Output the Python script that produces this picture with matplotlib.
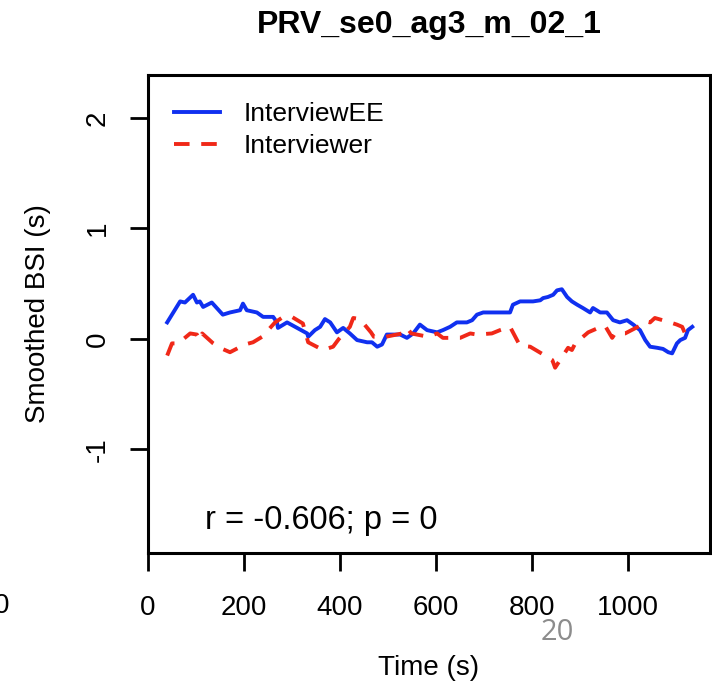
import numpy as np
import matplotlib
matplotlib.use('Agg')
import matplotlib.pyplot as plt

plt.rcParams['font.family'] = ['Liberation Sans', 'DejaVu Sans']

# InterviewEE (blue, solid)
ee_t = [40, 67, 77, 94, 102, 108, 115, 133, 156, 171, 192, 198, 206, 227, 240, 261, 269, 271,
        290, 311, 332, 334, 348, 359, 369, 380, 394, 407, 421, 436, 457, 467, 478, 488, 498,
        511, 526, 540, 553, 567, 582, 603, 615, 630, 644, 665, 676, 686, 699, 720, 734, 755,
        761, 776, 790, 803, 818, 824, 834, 845, 853, 863, 874, 884, 895, 907, 922, 928, 943,
        957, 970, 984, 999, 1012, 1026, 1037, 1047, 1062, 1074, 1085, 1093, 1103, 1110, 1120,
        1126, 1135]
ee_bsi = [0.15, 0.34, 0.33, 0.40, 0.33, 0.34, 0.29, 0.33, 0.22, 0.24, 0.26, 0.32, 0.26, 0.24,
          0.20, 0.20, 0.15, 0.10, 0.15, 0.10, 0.05, 0.02, 0.08, 0.11, 0.18, 0.15, 0.06, 0.10,
          0.05, -0.01, -0.03, -0.03, -0.07, -0.05, 0.04, 0.04, 0.04, 0.01, 0.05, 0.13, 0.08,
          0.06, 0.08, 0.11, 0.15, 0.15, 0.17, 0.22, 0.24, 0.24, 0.24, 0.24, 0.31, 0.34, 0.34,
          0.34, 0.35, 0.37, 0.38, 0.40, 0.44, 0.45, 0.38, 0.34, 0.31, 0.28, 0.24, 0.28, 0.24,
          0.24, 0.17, 0.15, 0.17, 0.13, 0.08, -0.01, -0.07, -0.08, -0.09, -0.12, -0.13, -0.04,
          -0.01, 0.01, 0.08, 0.11]

# Interviewer (red, dashed)
er_t = [40, 50, 63, 88, 102, 108, 113, 136, 150, 171, 202, 219, 238, 265, 282, 300, 323, 334,
        365, 386, 398, 421, 428, 442, 465, 471, 496, 530, 540, 549, 584, 603, 615, 651, 672,
        686, 717, 734, 755, 772, 776, 797, 828, 843, 849, 870, 876, 884, 891, 918, 939, 953,
        968, 974, 995, 1026, 1037, 1047, 1057, 1089, 1103, 1114, 1120]
er_bsi = [-0.15, -0.04, -0.04, 0.05, 0.04, -0.01, 0.05, -0.04, -0.08, -0.12, -0.05, -0.03,
          0.02, 0.15, 0.20, 0.20, 0.14, -0.03, -0.10, -0.07, 0.00, 0.11, 0.19, 0.18, 0.06,
          0.02, 0.02, 0.05, 0.10, 0.05, 0.02, 0.05, 0.01, 0.01, 0.05, 0.04, 0.05, 0.08, 0.11,
          -0.03, -0.06, -0.07, -0.15, -0.19, -0.26, -0.12, -0.08, -0.10, -0.04, 0.06, 0.10,
          0.12, 0.01, 0.05, 0.05, 0.12, 0.16, 0.15, 0.19, 0.15, 0.13, 0.11, 0.05]

title = 'PRV_se0_ag3_m_02_1'
stat_text = 'r = -0.606; p = 0'

fig = plt.figure(figsize=(7.12, 6.84), dpi=100)
ax = fig.add_axes([148 / 712, 1 - 553 / 684, 562 / 712, 478 / 684])

ax.plot(ee_t, ee_bsi, color='#1030f0', lw=2.8, label='InterviewEE')
ax.plot(er_t, er_bsi, color='#f02818', lw=2.8, linestyle=(0, (4, 3)), label='Interviewer')

ax.set_xlim(0, 1172)
ax.set_ylim(-1.937, 2.389)
ax.set_xticks([0, 200, 400, 600, 800, 1000])
ax.set_yticks([-1, 0, 1, 2])
ax.tick_params(direction='out', length=13, width=2, labelsize=20)
ax.tick_params(axis='x', pad=17.5)
ax.tick_params(axis='y', pad=14)
ax.set_yticklabels(['-1', '0', '1', '2'], rotation=90, va='center')
for s in ax.spines.values():
    s.set_linewidth(2.2)

ax.set_xlabel('Time (s)', fontsize=20, labelpad=24)
ax.set_ylabel('Smoothed BSI (s)', fontsize=20, labelpad=24)
ax.set_title(title, fontsize=23, fontweight='bold', pad=30)

ax.text(119, -1.64, stat_text, fontsize=23.5, va='center', ha='left')

ax.legend(loc='upper left', bbox_to_anchor=(0.004, 0.993), frameon=False, fontsize=19,
          handlelength=1.75, handletextpad=0.9, labelspacing=0.3)

# slide leftovers around the screenshot
fig.text(2 / 712, 1 - 606 / 684, '0', fontsize=20, ha='center', va='center')
fig.text(557 / 712, 1 - 633 / 684, '20', fontsize=21, color='#8c8c8c', ha='center',
         va='center', family=['Open Sans', 'DejaVu Sans'])

fig.savefig('out.png', dpi=100)
